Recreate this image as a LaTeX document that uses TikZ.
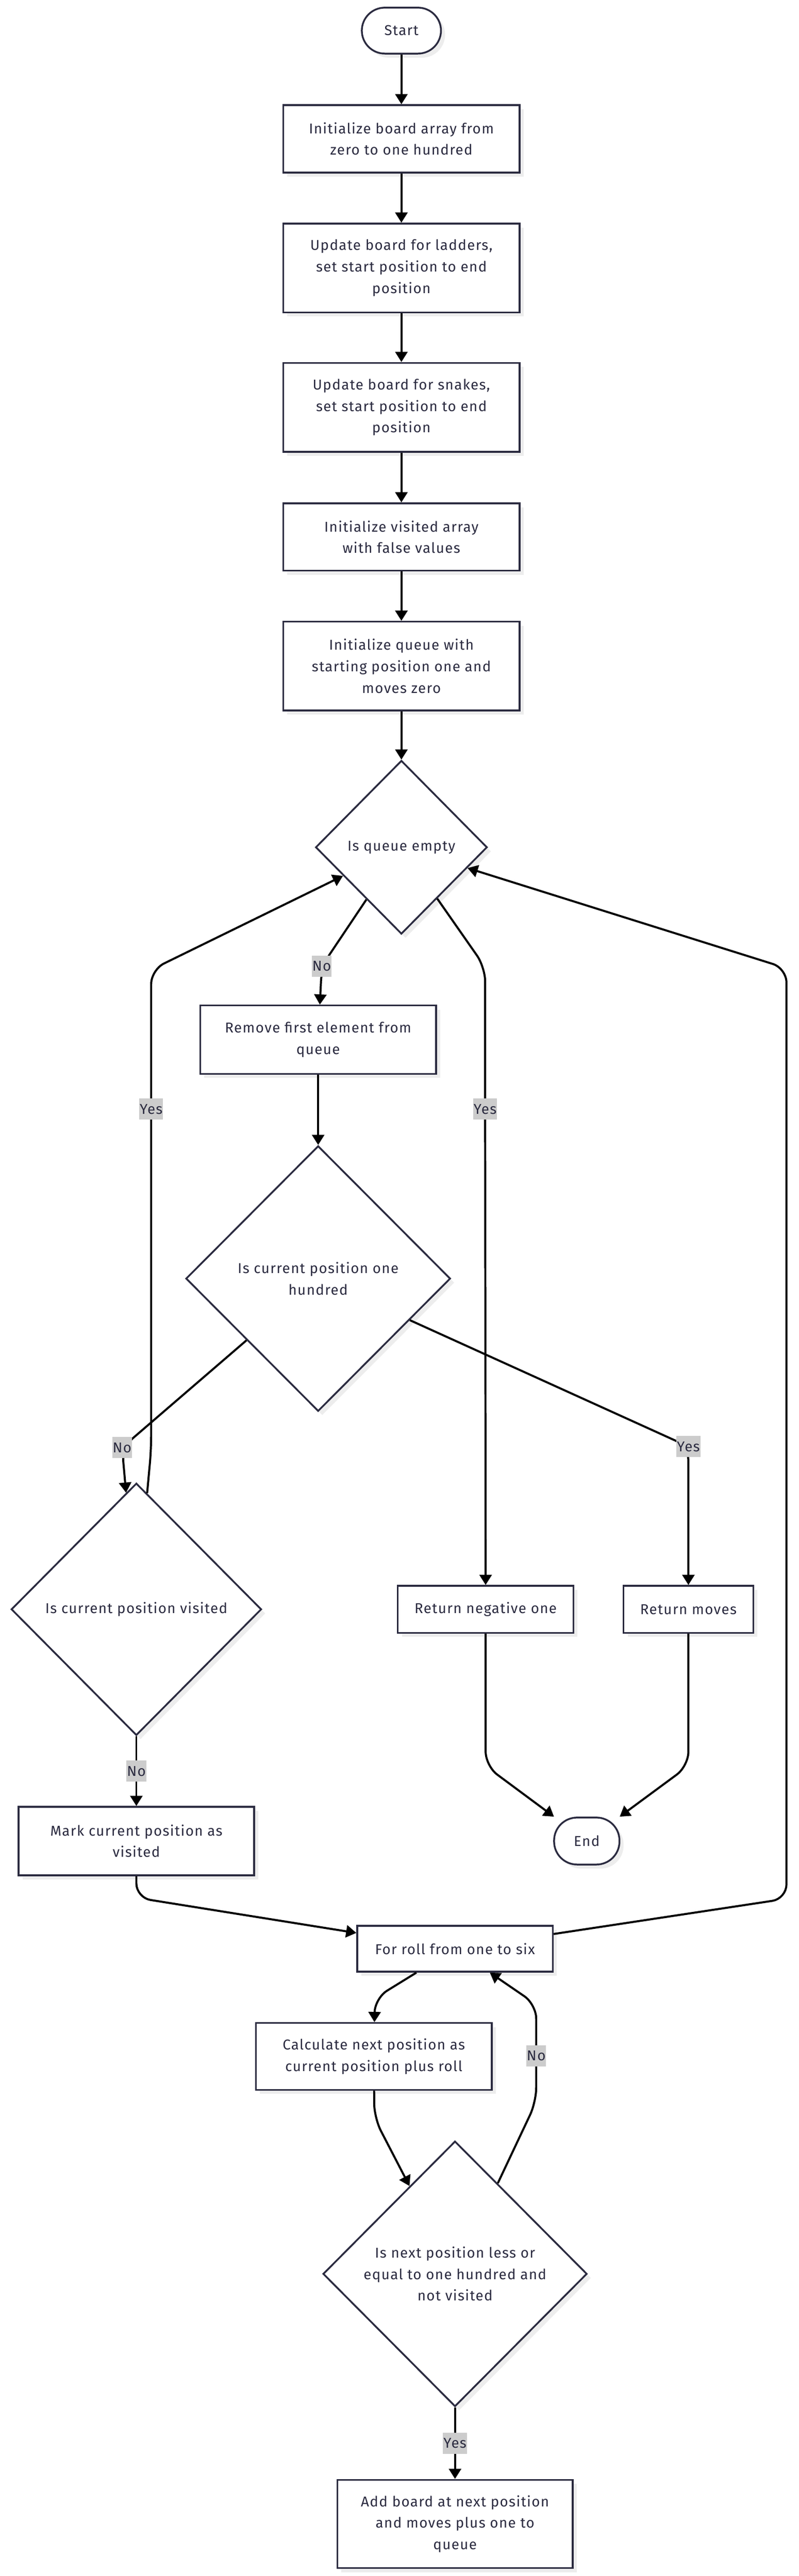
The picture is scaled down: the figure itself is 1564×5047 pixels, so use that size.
\documentclass[tikz,border=0pt]{standalone}
\usepackage{fontspec}
\usetikzlibrary{arrows.meta,shapes.geometric,shadows}
\newfontfamily\chartfont[LetterSpace=5]{Fira Sans}
\definecolor{inkc}{HTML}{2B2B40}
\tikzset{
  box/.style={rectangle, draw=inkc, line width=3.5pt, fill=white, text=inkc,
    font=\chartfont\fontsize{28}{42}\selectfont, align=center, inner sep=0pt,
    minimum width=463pt, minimum height=132pt,
    drop shadow={shadow xshift=8pt, shadow yshift=-8pt, fill=black!7, opacity=1}},
  term/.style={box, rounded corners=45pt, minimum width=155pt, minimum height=90pt},
  decide/.style={box, diamond, shape aspect=1},
  lbl/.style={sharp corners, fill=black!20, text=inkc, font=\chartfont\fontsize{28}{42}\selectfont,
    inner xsep=1pt, inner ysep=0pt, minimum height=41pt},
  flow/.style={draw=black, line width=4pt, ->, >={Triangle[length=20pt,width=24pt]}, rounded corners=28pt}
}
\begin{document}
\begin{tikzpicture}[x=1pt, y=-1pt]
  \fill[white] (0,0) rectangle (1564,5047);
  \useasboundingbox (0,0) rectangle (1564,5047);

  \node[term] (start) at (786,60) {Start};
  \node[box] (init) at (786,272) {Initialize board array from\\zero to one hundred};
  \node[box, minimum height=174pt] (ladders) at (786,525) {Update board for ladders,\\set start position to end\\position};
  \node[box, minimum height=174pt] (snakes) at (786,798) {Update board for snakes,\\set start position to end\\position};
  \node[box] (visited) at (786,1052) {Initialize visited array\\with false values};
  \node[box, minimum height=174pt] (queue) at (786,1305) {Initialize queue with\\starting position one and\\moves zero};
  \node[decide, minimum width=336pt, minimum height=340pt] (empty) at (786,1660) {Is queue empty};
  \node[box, minimum width=462pt, minimum height=134pt] (remove) at (623,2037) {Remove first element from\\queue};
  \node[decide, minimum width=518pt, minimum height=520pt] (hundred) at (623,2505) {Is current position one\\hundred};
  \node[decide, minimum width=490pt, minimum height=494pt] (seen) at (267,3153) {Is current position visited};
  \node[box, minimum width=344pt, minimum height=92pt] (retneg) at (951,3153) {Return negative one};
  \node[box, minimum width=254pt, minimum height=92pt] (retmoves) at (1348,3153) {Return moves};
  \node[box, minimum width=461pt, minimum height=134pt] (mark) at (267,3607) {Mark current position as\\visited};
  \node[term, minimum width=128pt, minimum height=92pt] (stop) at (1149,3607) {End};
  \node[box, minimum width=383pt, minimum height=90pt] (roll) at (891,3818) {For roll from one to six};
  \node[box, minimum width=462pt, minimum height=131pt] (calc) at (732,4029) {Calculate next position as\\current position plus roll};
  \node[decide, minimum width=517pt, minimum height=520pt] (valid) at (891,4455) {Is next position less or\\equal to one hundred and\\not visited};
  \node[box, minimum width=461pt, minimum height=173pt] (add) at (891,4945) {Add board at next position\\and moves plus one to\\queue};

  \draw[flow] (start) -- (init);
  \draw[flow] (init) -- (ladders);
  \draw[flow] (ladders) -- (snakes);
  \draw[flow] (snakes) -- (visited);
  \draw[flow] (visited) -- (queue);
  \draw[flow] (queue) -- (empty);
  \draw[flow] (empty) -- (630,1893) node[lbl] (noA) {No} -- (remove);
  \draw[flow] (empty) -- (950,1895) -- (950,2173) node[lbl] (yesA) {Yes} -- (retneg);
  \draw[flow] (remove) -- (hundred);
  \draw[flow] (hundred) -- (239,2836) node[lbl] (noB) {No} -- (seen);
  \draw[flow] (hundred) -- (1348,2834) node[lbl] (yesB) {Yes} -- (retmoves);
  \draw[flow] (seen) -- (296,2840) -- (296,2173) node[lbl] (yesC) {Yes} -- (296,1900) -- (empty);
  \draw[flow] (seen) -- node[lbl] (noC) {No} (mark);
  \draw[flow] (retneg) -- (951,3460) -- (stop);
  \draw[flow] (retmoves) -- (1348,3460) -- (stop);
  \draw[flow] (mark) -- (267,3718) -- (roll);
  \draw[flow] (roll) -- (1540,3720) -- (1540,1897) -- (empty);
  \draw[flow] (roll) -- (734,3915) -- (calc);
  \draw[flow] (calc) -- (733,4150) -- (valid);
  \draw[flow] (valid) -- (1050,4118) -- (1050,4028) node[lbl] (noD) {No} -- (1050,3927) -- (roll);
  \draw[flow] (valid) -- node[lbl] (yesD) {Yes} (add);
\end{tikzpicture}
\end{document}
